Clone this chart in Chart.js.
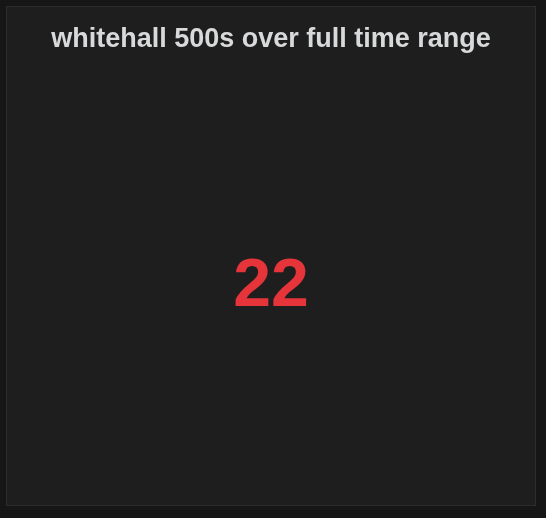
<!DOCTYPE html>
<html>
<head>
<meta charset="utf-8">
<script src="https://cdn.jsdelivr.net/npm/chart.js@4"></script>
<style>
  html, body { margin: 0; padding: 0; background: #161616; }
  #panel {
    position: absolute; left: 6px; top: 6px; width: 528px; height: 498px;
    background: #1f1e1f; border: 1px solid #2c2c2c;
  }
  canvas { display: block; }
</style>
</head>
<body>
<div id="panel"><canvas id="myChart" width="528" height="498"></canvas></div>
<script>
const panelTitle = "whitehall 500s over full time range";
const labels = ["total"];
const values = [22];
const valueColor = "#e5343a";

// draws the single stat value in the middle of the chart area
const statValue = {
  id: "statValue",
  afterDraw(chart) {
    const ctx = chart.ctx;
    const v = chart.data.datasets[0].data[0];
    ctx.save();
    ctx.font = "bold 68px 'Liberation Sans', Arial, sans-serif";
    ctx.fillStyle = valueColor;
    ctx.textAlign = "center";
    ctx.textBaseline = "middle";
    ctx.fillText(String(v), 264, 280);
    ctx.restore();
  },
};

const ctx = document.getElementById("myChart").getContext("2d");
new Chart(ctx, {
  type: "bar",
  data: {
    labels: labels,
    datasets: [{ data: values, backgroundColor: "rgba(0,0,0,0)" }],
  },
  options: {
    responsive: false,
    animation: false,
    plugins: {
      legend: { display: false },
      tooltip: { enabled: false },
      title: {
        display: true,
        text: panelTitle,
        color: "#d8d9da",
        font: { size: 27, weight: "bold", family: "'Liberation Sans', Arial, sans-serif" },
        padding: { top: 16, bottom: 10 },
      },
    },
    scales: {
      x: { display: false },
      y: { display: false, min: 0, max: 1000 },
    },
  },
  plugins: [statValue],
});
</script>
</body>
</html>
